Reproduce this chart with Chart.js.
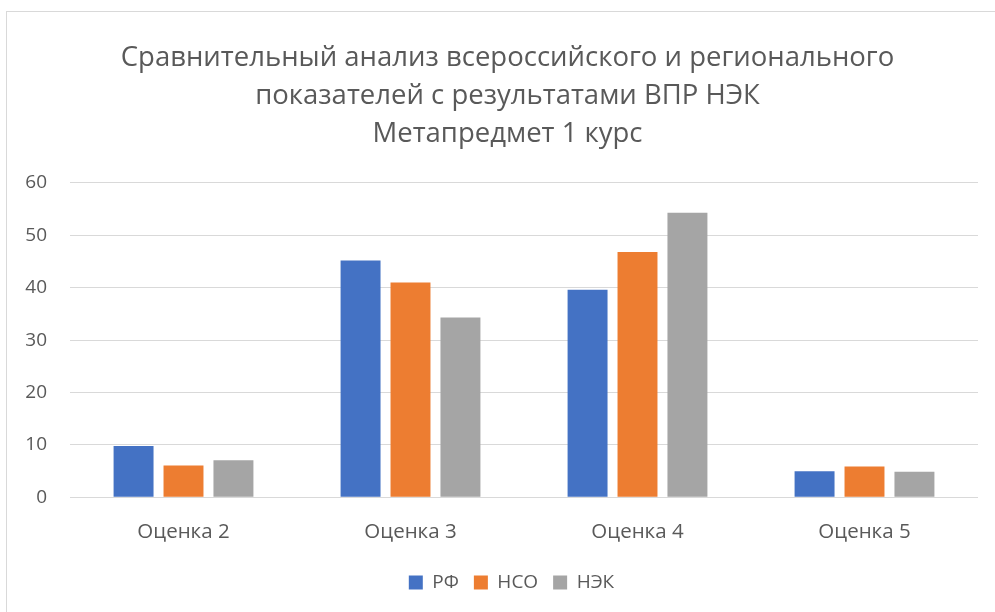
<!DOCTYPE html>
<html>
<head>
<meta charset="utf-8">
<script src="https://cdn.jsdelivr.net/npm/chart.js@4/dist/chart.umd.min.js"></script>
<style>
  html, body { margin: 0; padding: 0; background: #fff; overflow: hidden; }
  #frame {
    position: absolute; left: 6px; top: 11px; width: 1000px; height: 620px;
    border-left: 1px solid #d9d9d9; border-top: 1px solid #d9d9d9;
  }
  #wrap { position: absolute; left: 0; top: 0; width: 995px; height: 612px; }
</style>
</head>
<body>
<div id="frame"></div>
<div id="wrap"><canvas id="myChart"></canvas></div>
<script>
// chart data
let categories = ["Оценка 2", "Оценка 3", "Оценка 4", "Оценка 5"];
let rf = [9.8, 45.2, 39.6, 5.0];
let nso = [6.1, 41.0, 46.8, 5.9];
let nek = [7.1, 34.3, 54.3, 4.9];
let yTicks = [0, 10, 20, 30, 40, 50, 60];

let titleLines = [
  "Сравнительный анализ всероссийского и регионального",
  "показателей с результатами ВПР НЭК",
  "Метапредмет 1 курс"
];

let textColor = "#595959";
let gridColor = "#d9d9d9";

// title and legend sit a little right of the canvas centre in the original
let shiftBlocks = {
  id: "shiftBlocks",
  afterLayout(chart) {
    if (chart.titleBlock) {
      chart.titleBlock.left += 6;
      chart.titleBlock.right += 6;
    }
    if (chart.legend) {
      chart.legend.left += 10;
      chart.legend.right += 10;
    }
  }
};

let ctx = document.getElementById("myChart").getContext("2d");

let myChart = new Chart(ctx, {
  type: "bar",
  data: {
    labels: categories,
    datasets: [
      { label: "РФ", data: rf, backgroundColor: "#4472c4" },
      { label: "НСО", data: nso, backgroundColor: "#ed7d31" },
      { label: "НЭК", data: nek, backgroundColor: "#a5a5a5" }
    ]
  },
  plugins: [shiftBlocks],
  options: {
    responsive: true,
    maintainAspectRatio: false,
    animation: false,
    layout: {
      padding: { top: 26, left: 25, right: 17, bottom: 10 }
    },
    datasets: {
      bar: { categoryPercentage: 0.66, barPercentage: 0.8 }
    },
    plugins: {
      title: {
        display: true,
        text: titleLines,
        color: textColor,
        font: { family: "'Open Sans'", size: 27.5, weight: "normal", lineHeight: 1.38 },
        padding: { top: 13, bottom: 30 }
      },
      legend: {
        position: "bottom",
        labels: {
          color: textColor,
          font: { family: "'Open Sans'", size: 19 },
          boxWidth: 14,
          boxHeight: 14,
          padding: 15
        }
      },
      tooltip: { enabled: false }
    },
    scales: {
      x: {
        grid: { display: false },
        border: { display: false },
        afterFit: axis => {
          axis.paddingLeft = 0;
          axis.paddingRight = 0;
        },
        ticks: {
          color: textColor,
          font: { family: "'Open Sans'", size: 20.5, lineHeight: 1.3 },
          padding: 13
        }
      },
      y: {
        min: 0,
        max: 60,
        afterBuildTicks: axis => {
          axis.ticks = yTicks.map(v => ({ value: v }));
        },
        // label column + gap, as in the original
        afterFit: axis => {
          axis.width = 45;
        },
        grid: { color: gridColor, lineWidth: 1, drawTicks: false },
        border: { display: false },
        ticks: {
          color: textColor,
          font: { family: "'Open Sans'", size: 19 },
          padding: 23
        }
      }
    }
  }
});
</script>
</body>
</html>
